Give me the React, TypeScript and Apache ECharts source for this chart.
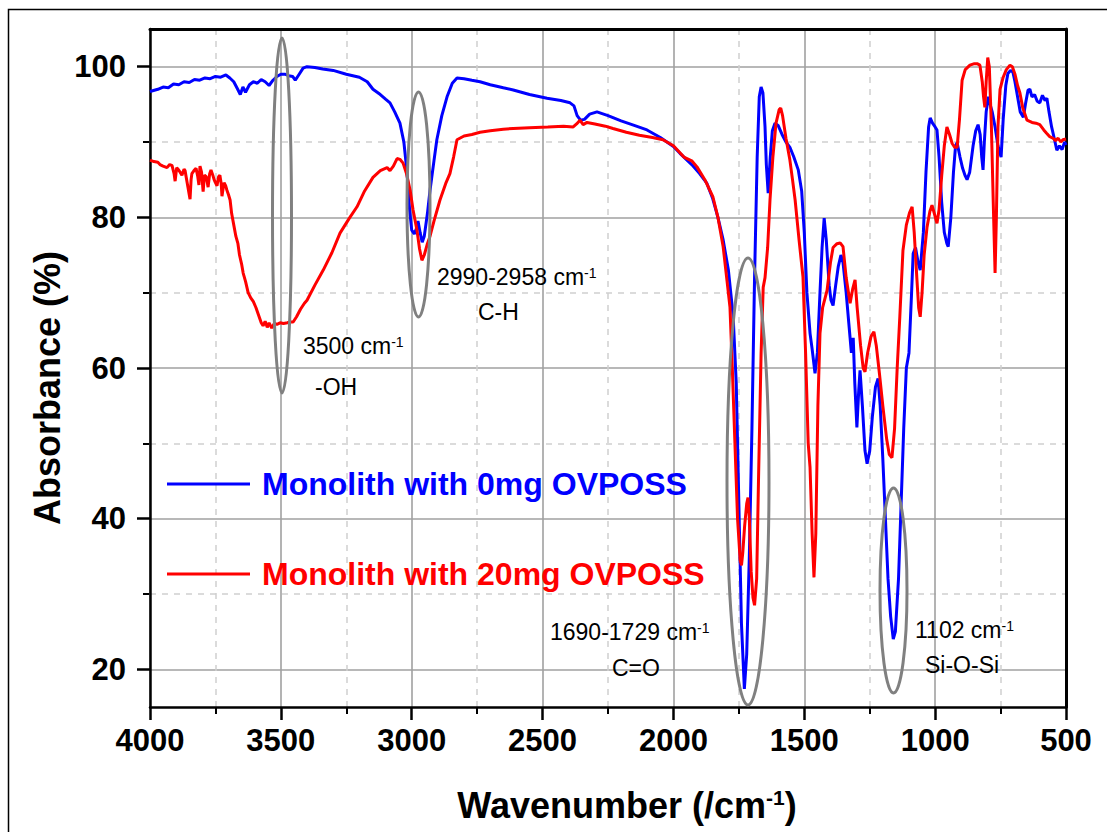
import React, { useEffect, useRef } from "react";
import * as echarts from "echarts";

// ---------- DATA ----------
const seriesNames = ["Monolith with 0mg OVPOSS", "Monolith with 20mg OVPOSS"];

// Monolith with 0mg OVPOSS (blue): wavenumber (cm-1) and absorbance (%)
const blueWn = [
  4000, 3970, 3950, 3930, 3910, 3890, 3870, 3850, 3830, 3810, 3790, 3770, 3750, 3730, 3710, 3695, 3680, 3665, 3655, 3645,
  3635, 3620, 3605, 3590, 3575, 3560, 3545, 3530, 3515, 3500, 3485, 3470, 3455, 3445, 3430, 3415, 3400, 3370, 3340, 3300,
  3250, 3200, 3170, 3148, 3120, 3100, 3083, 3065, 3045, 3030, 3018, 3008, 3000, 2990, 2982, 2976, 2968, 2960, 2952, 2940,
  2930, 2915, 2904, 2885, 2865, 2845, 2827, 2800, 2770, 2739, 2700, 2650, 2612, 2550, 2483, 2430, 2395, 2380, 2368, 2355,
  2340, 2320, 2292, 2250, 2200, 2150, 2101, 2050, 2000, 1975, 1930, 1900, 1872, 1850, 1830, 1810, 1790, 1772, 1760, 1750,
  1740, 1729, 1720, 1710, 1700, 1690, 1680, 1672, 1665, 1658, 1650, 1645, 1638, 1630, 1622, 1612, 1600, 1585, 1570, 1555,
  1540, 1523, 1510, 1500, 1490, 1478, 1470, 1459, 1450, 1440, 1432, 1424, 1416, 1405, 1398, 1390, 1380, 1370, 1360, 1352,
  1340, 1330, 1320, 1313, 1307, 1299, 1292, 1287, 1278, 1268, 1260, 1250, 1240, 1228, 1218, 1210, 1200, 1190, 1180, 1170,
  1160, 1152, 1140, 1130, 1120, 1110, 1100, 1090, 1084, 1075, 1065, 1057, 1045, 1035, 1025, 1019, 1010, 1000, 993, 985,
  975, 965, 955, 950, 940, 930, 922, 916, 905, 895, 885, 878, 868, 855, 845, 836, 828, 822, 817, 812,
  805, 797, 790, 782, 771, 760, 748, 740, 730, 722, 712, 703, 695, 685, 675, 663, 655, 645, 638, 630,
  620, 610, 600, 590, 580, 573, 565, 555, 545, 535, 525, 515, 505, 500,
];
const blueAbs = [
  96.7, 97.0, 97.3, 97.2, 97.7, 97.6, 98.0, 97.9, 98.3, 98.2, 98.5, 98.4, 98.7, 98.6, 98.9, 98.5, 98.0, 97.0, 96.3, 97.3,
  96.6, 97.6, 98.0, 97.8, 98.3, 98.0, 97.5, 98.2, 98.7, 99.0, 99.0, 98.8, 98.7, 98.2, 99.0, 99.8, 100.0, 99.9, 99.7, 99.5,
  99.0, 98.6, 98.0, 97.0, 96.3, 95.7, 95.2, 94.0, 92.5, 90.0, 86.0, 81.0, 78.3, 77.8, 78.5, 79.5, 78.0, 76.7, 77.5, 80.5,
  83.6, 87.5, 90.3, 93.5, 96.0, 97.8, 98.5, 98.4, 98.2, 98.0, 97.6, 97.2, 96.9, 96.3, 95.8, 95.5, 95.2, 94.8, 93.5, 92.9,
  93.0, 93.7, 94.0, 93.5, 92.8, 92.2, 91.6, 90.6, 89.4, 88.5, 87.0, 85.8, 84.5, 82.5, 80.0, 77.0, 73.0, 67.0, 58.0, 42.0,
  26.0, 17.4, 22.0, 35.0, 52.0, 72.0, 88.0, 96.0, 97.3, 96.5, 92.0, 87.0, 83.2, 88.0, 91.5, 92.5, 92.2, 91.0, 90.0, 89.3,
  88.0, 86.3, 83.5, 78.0, 70.0, 64.6, 62.5, 59.3, 62.0, 70.0, 76.0, 79.9, 77.0, 71.0, 69.0, 68.3, 71.0, 73.5, 75.0, 74.0,
  70.0, 66.0, 62.0, 64.0, 58.0, 52.1, 57.0, 59.7, 55.0, 49.0, 47.3, 49.0, 53.5, 57.5, 58.6, 55.0, 48.0, 40.0, 32.0, 27.0,
  24.0, 25.0, 32.0, 42.0, 52.0, 60.0, 62.0, 70.0, 75.2, 76.0, 74.0, 73.0, 78.0, 86.0, 92.0, 93.2, 92.5, 92.0, 91.6, 88.0,
  82.0, 78.0, 76.5, 76.1, 80.0, 86.0, 89.5, 89.9, 88.0, 86.5, 85.5, 85.0, 86.0, 89.5, 91.5, 92.3, 91.0, 88.0, 86.3, 90.0,
  94.0, 96.0, 95.0, 94.0, 92.0, 89.5, 88.0, 93.0, 97.5, 99.1, 99.5, 99.3, 98.0, 96.0, 94.0, 93.3, 95.0, 96.9, 97.0, 96.0,
  96.3, 95.4, 95.2, 96.2, 95.5, 95.8, 94.0, 92.0, 90.5, 88.9, 89.5, 89.0, 90.0, 89.6,
];

// Monolith with 20mg OVPOSS (red)
const redWn = [
  4000, 3985, 3970, 3962, 3950, 3935, 3925, 3916, 3908, 3904, 3898, 3893, 3885, 3878, 3870, 3866, 3860, 3855, 3850, 3847,
  3843, 3840, 3832, 3824, 3818, 3813, 3809, 3803, 3797, 3792, 3785, 3778, 3772, 3767, 3760, 3755, 3750, 3744, 3738, 3733,
  3728, 3725, 3720, 3717, 3711, 3706, 3700, 3694, 3688, 3680, 3672, 3664, 3658, 3650, 3644, 3635, 3625, 3615, 3605, 3595,
  3585, 3575, 3568, 3560, 3552, 3545, 3535, 3525, 3515, 3503, 3490, 3475, 3465, 3453, 3440, 3425, 3410, 3400, 3370, 3338,
  3305, 3274, 3240, 3209, 3180, 3148, 3120, 3094, 3083, 3070, 3056, 3045, 3033, 3020, 3006, 2995, 2980, 2970, 2961, 2952,
  2940, 2930, 2915, 2892, 2870, 2854, 2840, 2827, 2800, 2770, 2739, 2700, 2650, 2612, 2550, 2480, 2420, 2383, 2370, 2357,
  2345, 2330, 2300, 2260, 2231, 2180, 2130, 2080, 2040, 2000, 1960, 1930, 1910, 1880, 1849, 1830, 1810, 1795, 1784, 1775,
  1765, 1755, 1745, 1740, 1735, 1728, 1720, 1715, 1710, 1703, 1696, 1690, 1682, 1675, 1665, 1657, 1650, 1640, 1631, 1620,
  1608, 1596, 1590, 1583, 1570, 1555, 1545, 1535, 1520, 1505, 1495, 1485, 1478, 1470, 1463, 1456, 1448, 1440, 1430, 1413,
  1400, 1390, 1375, 1363, 1352, 1340, 1325, 1315, 1306, 1298, 1285, 1275, 1268, 1258, 1245, 1234, 1225, 1212, 1200, 1185,
  1175, 1165, 1155, 1145, 1135, 1123, 1110, 1098, 1088, 1080, 1070, 1063, 1057, 1050, 1042, 1031, 1020, 1012, 1003, 993,
  985, 975, 965, 955, 945, 935, 925, 916, 907, 897, 885, 867, 850, 840, 829, 820, 815, 810, 805, 799,
  793, 785, 778, 771, 766, 760, 752, 740, 728, 714, 705, 695, 685, 676, 665, 649, 630, 615, 600, 585,
  575, 562, 550, 540, 530, 520, 512, 500,
];
const redAbs = [
  87.6, 87.4, 87.3, 87.0, 86.8, 86.6, 87.0, 86.9, 85.8, 84.8, 86.6, 86.4, 86.0, 85.6, 86.4, 86.2, 85.0, 84.0, 83.0, 82.4,
  85.0, 85.8, 86.2, 86.5, 85.5, 84.3, 86.8, 86.0, 83.4, 85.6, 85.4, 84.0, 85.8, 86.3, 85.6, 85.0, 84.6, 84.2, 85.4, 85.6,
  84.5, 82.8, 84.0, 84.6, 84.2, 83.6, 83.0, 82.3, 80.5, 79.0, 77.5, 76.5, 75.0, 73.8, 72.6, 71.5, 70.0, 69.3, 68.8, 68.0,
  67.0, 66.0, 65.6, 66.2, 65.4, 66.0, 65.3, 65.9, 65.8, 66.0, 65.9, 66.0, 66.1, 66.1, 66.8, 67.8, 68.6, 69.0, 71.0, 73.0,
  75.3, 77.9, 79.8, 81.4, 83.5, 85.3, 86.2, 86.6, 86.2, 86.8, 87.8, 87.7, 87.2, 85.8, 83.6, 81.0, 78.3, 75.8, 74.3, 75.0,
  76.5, 77.5, 79.5, 82.3, 84.5, 85.8, 88.0, 90.3, 90.8, 91.0, 91.3, 91.5, 91.7, 91.8, 91.9, 92.0, 92.1, 92.0, 92.4, 92.9,
  92.3, 92.6, 92.4, 92.1, 91.8, 91.3, 90.9, 90.6, 90.3, 89.5, 88.0, 87.5, 86.7, 85.0, 82.7, 80.0, 76.1, 71.5, 68.1, 60.0,
  50.0, 40.0, 34.5, 33.8, 35.5, 39.0, 42.0, 42.8, 40.0, 33.0, 29.5, 28.5, 32.0, 45.0, 62.0, 70.7, 72.0, 76.0, 82.3, 88.0,
  92.5, 94.3, 94.5, 93.5, 90.5, 87.6, 85.0, 82.3, 77.0, 72.1, 62.0, 50.0, 46.8, 38.0, 32.2, 38.0, 55.0, 64.6, 68.0, 70.3,
  74.0, 76.0, 76.5, 76.6, 76.1, 72.0, 68.6, 70.5, 71.7, 68.0, 63.0, 60.0, 59.5, 62.0, 64.2, 64.8, 63.0, 59.0, 55.0, 50.5,
  48.5, 48.1, 52.0, 60.0, 66.8, 75.6, 79.0, 80.6, 81.4, 78.0, 72.0, 68.0, 66.8, 70.0, 75.0, 78.7, 80.8, 81.6, 80.5, 79.2,
  81.0, 85.5, 89.5, 92.0, 91.0, 89.8, 89.3, 89.3, 93.0, 98.2, 99.6, 100.2, 100.4, 100.4, 100.2, 98.0, 96.0, 94.6, 98.0, 101.2,
  100.0, 92.0, 82.0, 72.6, 80.0, 92.0, 97.0, 98.6, 99.6, 100.2, 100.0, 99.0, 97.5, 96.5, 94.5, 92.9, 92.6, 92.5, 92.3, 91.6,
  91.2, 90.7, 90.5, 90.2, 90.5, 90.0, 90.3, 90.4,
];

const xMin = 500;
const xMax = 4000;
const xStep = 500;
const yMin = 15;
const yMax = 105;
const yMajorTicks = [20, 40, 60, 80, 100];
const yMinorTicks = [30, 50, 70, 90];

const FONT = "'Liberation Sans', Arial, Helvetica, sans-serif";

const zip = (xs: number[], ys: number[]) => xs.map((x, i) => [x, ys[i]]);

export default function App() {
  const ref = useRef<HTMLDivElement>(null);

  useEffect(() => {
    if (!ref.current) return;
    const chart = echarts.init(ref.current, undefined, { renderer: "svg" });

    const annotRich = {
      n: { fontSize: 23, fontFamily: FONT, color: "#111" },
      s: { fontSize: 14, fontFamily: FONT, color: "#111", verticalAlign: "top" },
    };
    const annot = (text: string, x: number, y: number) => ({
      type: "text",
      x,
      y,
      z: 20,
      style: {
        text,
        rich: annotRich,
        align: "left",
        textAlign: "left",
        verticalAlign: "middle",
        textVerticalAlign: "middle",
      },
    });
    const ellipse = (cx: number, cy: number, rx: number, ry: number) => ({
      type: "ellipse",
      z: 15,
      shape: { cx, cy, rx, ry },
      style: { fill: "none", stroke: "#808080", lineWidth: 3 },
    });

    const option: any = {
      animation: false,
      backgroundColor: "#ffffff",
      grid: { left: 150, right: 41, top: 29, bottom: 125, containLabel: false },
      legend: {
        orient: "vertical",
        left: 167,
        top: 466,
        padding: 0,
        icon: "rect",
        itemWidth: 83,
        itemHeight: 3,
        itemGap: 54,
        textStyle: {
          fontSize: 32,
          fontWeight: "bold",
          fontFamily: FONT,
          lineHeight: 36,
          padding: [0, 0, 0, 7],
        },
        data: [
          { name: seriesNames[0], textStyle: { color: "#0000ff" } },
          { name: seriesNames[1], textStyle: { color: "#ff0000" } },
        ],
      },
      xAxis: [
        {
          type: "value",
          position: "bottom",
          inverse: true,
          min: xMin,
          max: xMax,
          interval: xStep,
          z: 1,
          axisLine: { show: true, onZero: false, lineStyle: { color: "#000", width: 2.5 } },
          axisTick: { show: true, length: 13, lineStyle: { color: "#000", width: 2.5 } },
          minorTick: { show: true, splitNumber: 2, length: 7, lineStyle: { color: "#000", width: 2 } },
          axisLabel: {
            margin: 18,
            fontSize: 31,
            fontWeight: "bold",
            fontFamily: FONT,
            color: "#000",
            formatter: (v: number) => String(v),
          },
          splitLine: { show: true, lineStyle: { color: "#a0a0a0", width: 1.6 } },
          minorSplitLine: { show: true, lineStyle: { color: "#cfcfcf", width: 1.5, type: [6, 6] } },
        },
        {
          type: "value",
          position: "top",
          inverse: true,
          min: xMin,
          max: xMax,
          z: 2,
          axisLine: { show: true, onZero: false, lineStyle: { color: "#000", width: 3 } },
          axisTick: { show: false },
          axisLabel: { show: false },
          splitLine: { show: false },
        },
      ],
      yAxis: [
        {
          type: "value",
          position: "left",
          min: yMin,
          max: yMax,
          z: 1,
          axisLine: { show: true, onZero: false, lineStyle: { color: "#000", width: 2.5 } },
          axisTick: { show: true, length: 13, customValues: yMajorTicks, lineStyle: { color: "#000", width: 2.5 } },
          axisLabel: {
            customValues: yMajorTicks,
            margin: 24,
            fontSize: 31,
            fontWeight: "bold",
            fontFamily: FONT,
            color: "#000",
            formatter: (v: number) => String(v),
          },
          splitLine: { show: true, lineStyle: { color: "#a0a0a0", width: 1.6 } },
        },
        {
          type: "value",
          position: "left",
          min: yMin,
          max: yMax,
          z: 0,
          axisLine: { show: false },
          axisTick: { show: true, length: 7, customValues: yMinorTicks, lineStyle: { color: "#000", width: 2 } },
          axisLabel: { show: false, customValues: yMinorTicks },
          splitLine: { show: true, lineStyle: { color: "#cfcfcf", width: 1.5, type: [6, 6] } },
        },
        {
          type: "value",
          position: "right",
          min: yMin,
          max: yMax,
          z: 2,
          axisLine: { show: true, onZero: false, lineStyle: { color: "#000", width: 3 } },
          axisTick: { show: false },
          axisLabel: { show: false },
          splitLine: { show: false },
        },
      ],
      series: [
        {
          type: "line",
          name: seriesNames[0],
          xAxisIndex: 0,
          yAxisIndex: 0,
          data: zip(blueWn, blueAbs),
          symbol: "none",
          showSymbol: false,
          z: 5,
          lineStyle: { color: "#0000ff", width: 3 },
          itemStyle: { color: "#0000ff" },
        },
        {
          type: "line",
          name: seriesNames[1],
          xAxisIndex: 0,
          yAxisIndex: 0,
          data: zip(redWn, redAbs),
          symbol: "none",
          showSymbol: false,
          z: 6,
          lineStyle: { color: "#ff0000", width: 3 },
          itemStyle: { color: "#ff0000" },
        },
      ],
      graphic: [
        {
          type: "rect",
          z: 0,
          shape: { x: 8.5, y: 9.5, width: 1200, height: 900 },
          style: { fill: "none", stroke: "#000", lineWidth: 1.5 },
        },
        ellipse(282, 215.5, 9.5, 177.5),
        ellipse(418.5, 204.5, 11.5, 112.5),
        ellipse(748, 481.5, 21, 223.5),
        ellipse(893.5, 590.5, 13.5, 102.5),
        annot("{n|3500 cm}{s|-1}", 303, 346),
        annot("{n|-OH}", 315, 387),
        annot("{n|2990-2958 cm}{s|-1}", 437, 277),
        annot("{n|C-H}", 478, 312),
        annot("{n|1690-1729 cm}{s|-1}", 550, 632),
        annot("{n|C=O}", 612, 668),
        annot("{n|1102 cm}{s|-1}", 915, 630),
        annot("{n|Si-O-Si}", 925, 665),
        {
          type: "text",
          x: 627,
          y: 805,
          z: 20,
          style: {
            text: "{b|Wavenumber (/cm}{s|-1}{b|)}",
            rich: {
              b: { fontSize: 36, fontWeight: "bold", fontFamily: FONT, color: "#000" },
              s: { fontSize: 21, fontWeight: "bold", fontFamily: FONT, color: "#000", verticalAlign: "top" },
            },
            align: "center",
            textAlign: "center",
            verticalAlign: "middle",
            textVerticalAlign: "middle",
          },
        },
        {
          type: "text",
          x: 47,
          y: 388,
          z: 20,
          rotation: Math.PI / 2,
          style: {
            text: "Absorbance (%)",
            fontSize: 36,
            fontWeight: "bold",
            fontFamily: FONT,
            fill: "#000",
            align: "center",
            textAlign: "center",
            verticalAlign: "middle",
            textVerticalAlign: "middle",
          },
        },
      ],
    };

    chart.setOption(option);
    return () => chart.dispose();
  }, []);

  return (
    <div
      ref={ref}
      style={{ position: "absolute", left: 0, top: 0, width: 1107, height: 832, background: "#fff" }}
    />
  );
}
